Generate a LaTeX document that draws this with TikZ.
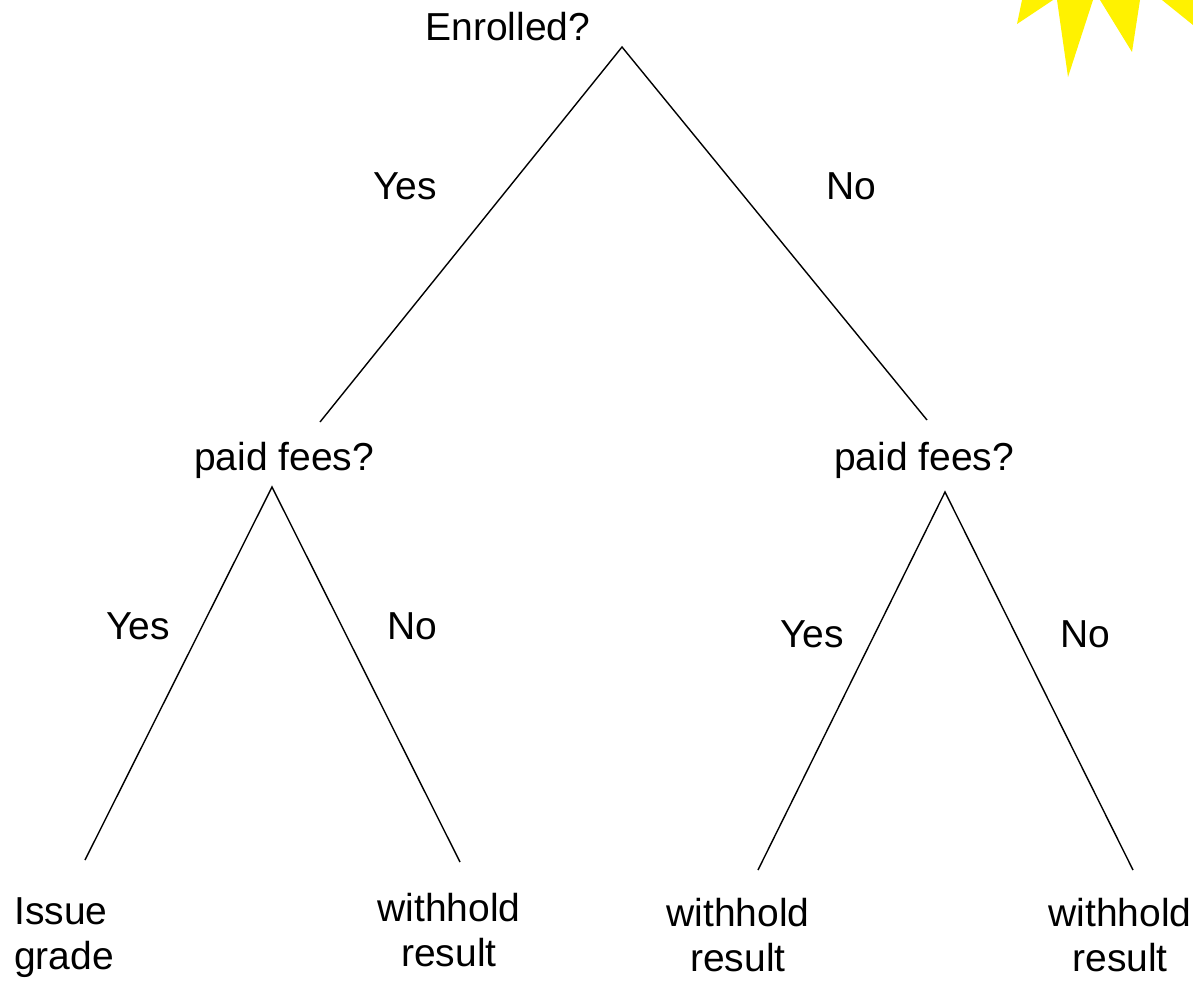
\documentclass[tikz,border=0pt]{standalone}
\usepackage{fontspec}
\setmainfont{Liberation Sans}
\begin{document}
\begin{tikzpicture}[x=1pt,y=-1pt,
  lbl/.style={inner sep=0pt,font=\fontsize{39}{45}\selectfont},
  edge/.style={line width=1.4pt,black},
  sun/.style={fill=yellow,draw=none}]
\useasboundingbox (0,0) rectangle (1193,982);
% sun spikes
\fill[sun] (1017,24) -- (1022,0) -- (1053,0) -- cycle;
\fill[sun] (1057,0) -- (1068,77) -- (1093,0) -- cycle;
\fill[sun] (1100,0) -- (1132,52) -- (1140,0) -- cycle;
\fill[sun] (1162,0) -- (1193,25) -- (1193,0) -- cycle;
% text nodes
\node[lbl] (root) at (508,27) {Enrolled?};
\node[lbl] (pl) at (284,460) {paid fees?};
\node[lbl] (pr) at (924,460) {paid fees?};
\node[lbl,align=left,anchor=west] (l1) at (14,938) {Issue\\grade};
\node[lbl,align=center] (l2) at (449,930) {withhold\\result};
\node[lbl,align=center] (l3) at (738,935) {withhold\\result};
\node[lbl,align=center] (l4) at (1120,935) {withhold\\result};
% branch points
\coordinate (ra) at (622,47);
\coordinate (rl) at (320,422);
\coordinate (rr) at (927,420);
\coordinate (la) at (272,487);
\coordinate (ll) at (85,860);
\coordinate (lr) at (460,862);
\coordinate (ka) at (945,492);
\coordinate (kl) at (758,870);
\coordinate (kr) at (1133,870);
\draw[edge] (rl) -- (ra) -- (rr);
\draw[edge] (ll) -- (la) -- (lr);
\draw[edge] (kl) -- (ka) -- (kr);
% edge labels
\node[lbl] (y1) at (405,186) {Yes};
\node[lbl] (n1) at (851,186) {No};
\node[lbl] (y2) at (138,626) {Yes};
\node[lbl] (n2) at (412,626) {No};
\node[lbl] (y3) at (812,634) {Yes};
\node[lbl] (n3) at (1085,634) {No};
\end{tikzpicture}
\end{document}
